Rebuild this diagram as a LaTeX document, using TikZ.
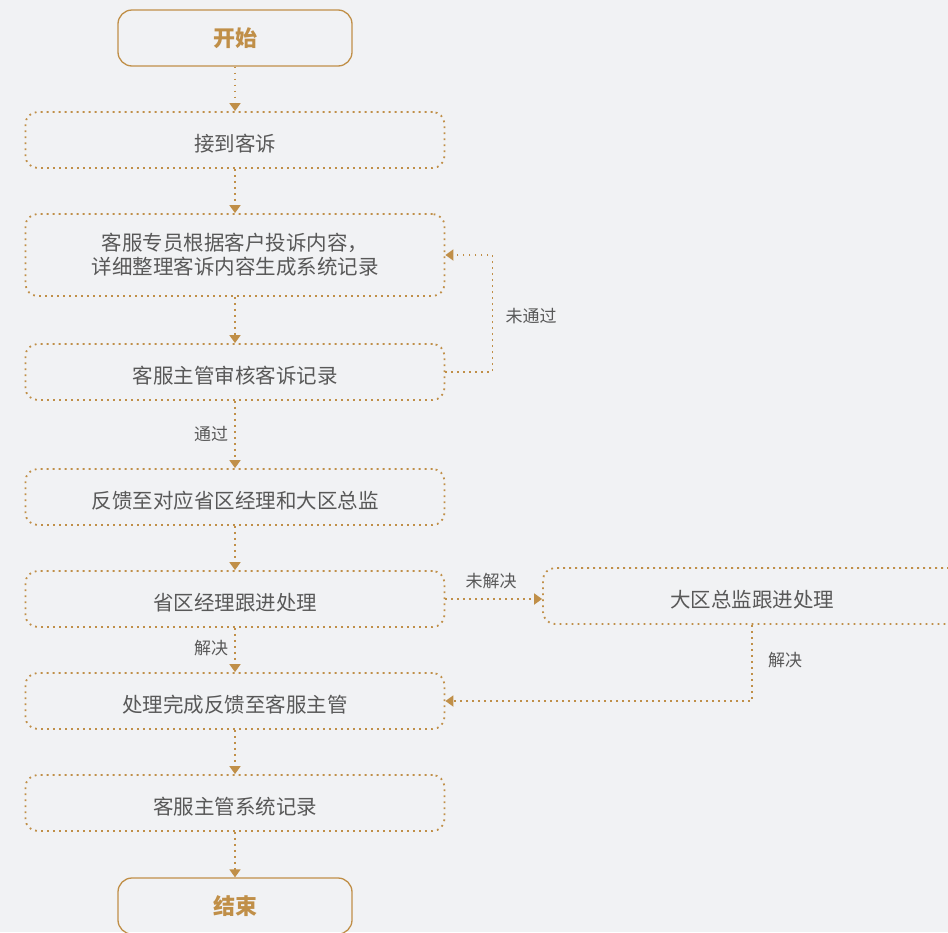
\documentclass[tikz,border=0pt]{standalone}
\usepackage{fontspec}
\newfontfamily\cjk{Noto Sans CJK SC}
\usetikzlibrary{arrows.meta}
\definecolor{brownline}{RGB}{192,143,72}
\definecolor{bggray}{RGB}{241,242,244}
\definecolor{txtgray}{RGB}{88,88,88}
\tikzset{
  boxbase/.style={draw=brownline, line width=1.8pt, dash pattern=on 1.8pt off 4.2pt,
    rounded corners=12pt, minimum width=419pt, minimum height=56pt, inner sep=0pt,
    align=center, text=txtgray, font=\cjk\fontsize{20.5}{24}\selectfont},
  box/.style={boxbase, text height=22pt, text depth=0pt},
  term/.style={draw=brownline, line width=1.3pt, rounded corners=14pt,
    minimum width=234pt, minimum height=56pt, inner sep=0pt,
    text=brownline, font=\cjk\bfseries\fontsize{22}{26}\selectfont},
  flow/.style={draw=brownline, line width=1.8pt, dash pattern=on 1.8pt off 4.2pt,
    -{Triangle[width=11pt,length=8pt]}},
  lbl/.style={text=txtgray, font=\cjk\fontsize{17}{20}\selectfont}
}
\begin{document}
\begin{tikzpicture}[x=1pt,y=-1pt]
  \fill[bggray] (0,0) rectangle (948,932);
  \useasboundingbox (0,0) rectangle (948,932);

  \node[term] (start) at (235,38) {开始};
  \node[box] (recv) at (235,140) {接到客诉};
  \node[boxbase, minimum height=82pt] (record) at (235,255) {客服专员根据客户投诉内容，\\详细整理客诉内容生成系统记录};
  \node[box] (review) at (235,372) {客服主管审核客诉记录};
  \node[box] (notify) at (235,497) {反馈至对应省区经理和大区总监};
  \node[box] (prov) at (235,599) {省区经理跟进处理};
  \node[box, minimum width=418pt] (escal) at (752,596) {大区总监跟进处理};
  \node[box] (done) at (235,701) {处理完成反馈至客服主管};
  \node[box] (log) at (235,803) {客服主管系统记录};
  \node[term] (stop) at (235,906) {结束};

  \node[lbl] (nopass) at (531,316) {未通过};
  \node[lbl] (pass) at (211,434) {通过};
  \node[lbl] (unsolved) at (491,581) {未解决};
  \node[lbl] (solved) at (211,648) {解决};
  \node[lbl] (solved2) at (785,660) {解决};

  \draw[flow] (start) -- (recv);
  \draw[flow] (recv) -- (record);
  \draw[flow] (record) -- (review);
  \draw[flow] (review.east) -- ++(47,0) |- (record.east);
  \draw[flow] (review) -- (notify);
  \draw[flow] (notify) -- (prov);
  \draw[flow] (prov.east) -- (prov.east -| escal.west);
  \draw[flow] (prov) -- (done);
  \draw[flow] (escal.south) |- (done.east);
  \draw[flow] (done) -- (log);
  \draw[flow] (log) -- (stop);

\end{tikzpicture}
\end{document}
